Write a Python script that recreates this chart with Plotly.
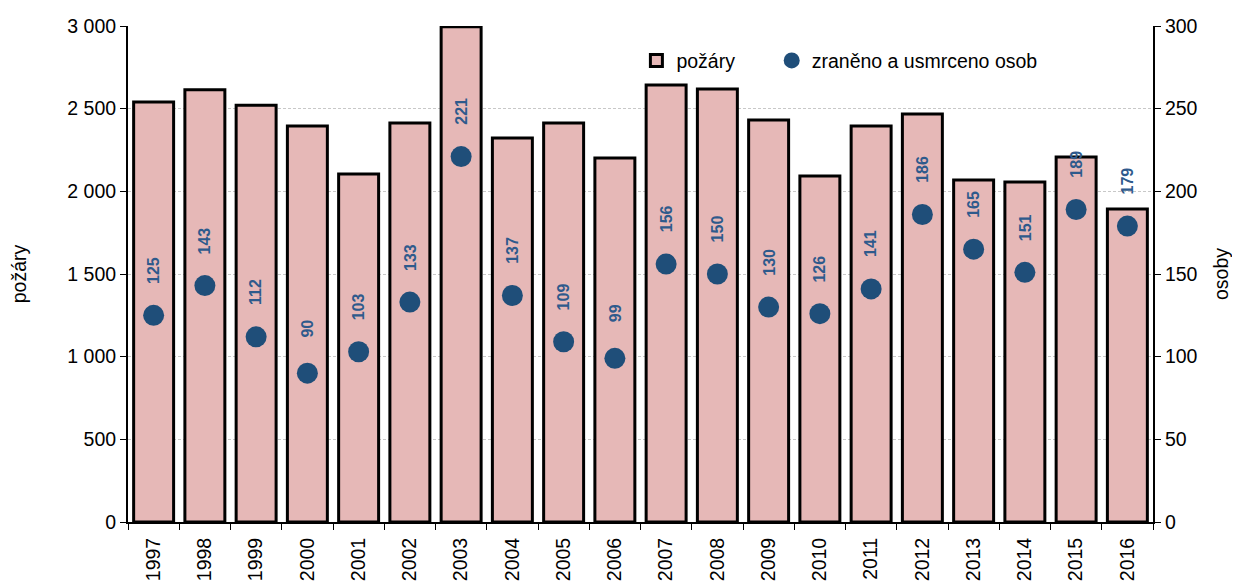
import plotly.graph_objects as go

years = [str(y) for y in range(1997, 2017)]
fires = [2540, 2615, 2520, 2395, 2105, 2413, 2995, 2323, 2413, 2202,
         2643, 2619, 2431, 2093, 2395, 2468, 2069, 2056, 2208, 1893]
persons = [125, 143, 112, 90, 103, 133, 221, 137, 109, 99,
           156, 150, 130, 126, 141, 186, 165, 151, 189, 179]

BLUE = "#1F4E79"
FONT = "Liberation Sans, Arial, sans-serif"
FS = 19.5

fig = go.Figure()
fig.add_trace(go.Bar(
    x=years, y=fires, name="požáry", legend="legend",
    marker=dict(color="#E6B8B7", line=dict(color="black", width=3)),
))
fig.add_trace(go.Scatter(
    x=years, y=persons, name="zraněno a usmrceno osob", yaxis="y2",
    legend="legend2",
    mode="markers", marker=dict(color=BLUE, size=21),
))

for i, v in enumerate(persons):
    fig.add_annotation(x=i, y=v, xref="x", yref="y2", text=f"<b>{v}</b>",
                       textangle=-90, showarrow=False, yshift=45,
                       font=dict(family=FONT, size=16, color="#2E5A8C"))

fig.update_layout(
    width=1240, height=581,
    margin=dict(l=120, r=95, t=18, b=67, autoexpand=False),
    paper_bgcolor="white", plot_bgcolor="white",
    font=dict(family=FONT, size=FS, color="black"),
    separators=", ",
    bargap=0.22,
    showlegend=True,
    legend=dict(x=0.496, y=0.93, xanchor="left", yanchor="middle",
                bgcolor="rgba(0,0,0,0)", font=dict(size=FS)),
    legend2=dict(x=0.628, y=0.93, xanchor="left", yanchor="middle",
                 bgcolor="rgba(0,0,0,0)", font=dict(size=FS)),
    xaxis=dict(type="category", range=[-0.5, 19.5], tickangle=-90,
               showline=True, linecolor="black", automargin=False,
               linewidth=2, ticks="outside", tickson="boundaries", ticklen=6,
               ticklabelstandoff=6,
               tickcolor="black", showgrid=False, tickfont=dict(size=FS)),
    yaxis=dict(range=[0, 3000], dtick=500, tickformat=",d", showline=True,
               automargin=False,
               linecolor="black", linewidth=2, ticks="outside", ticklen=6,
               tickcolor="black", gridcolor="#C8C8C8", griddash="3px,2px",
               gridwidth=1,
               title=dict(text="požáry", standoff=35, font=dict(size=FS)),
               zeroline=False),
    yaxis2=dict(range=[0, 300], dtick=50, overlaying="y", side="right",
                automargin=False,
                showline=True, linecolor="black", linewidth=2, ticks="outside",
                ticklen=6, tickcolor="black", showgrid=False, zeroline=False,
                title=dict(text="osoby", standoff=18, font=dict(size=FS))),
)

fig.write_html("out.html")
